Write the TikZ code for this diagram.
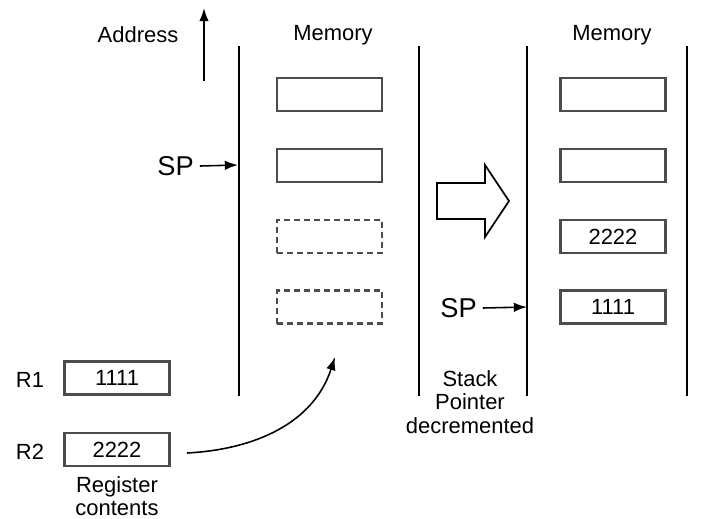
\documentclass[tikz,border=0pt]{standalone}
\usepackage{fontspec}
\setmainfont{Liberation Sans}
\usetikzlibrary{arrows.meta}

\begin{document}
\begin{tikzpicture}[x=0.02cm, y=-0.02cm,
    every node/.style={font=\fontsize{12.5}{13.4}\selectfont},
    cell/.style={draw=black!70, line width=1.2pt, minimum width=2.1cm, minimum height=0.66cm, inner sep=0pt},
    gap/.style={cell, dash pattern=on 3.4pt off 2.3pt},
    wall/.style={line width=1.1pt},
    arr/.style={-{Latex[length=7.5pt, width=5.4pt]}, line width=0.9pt},
    splabel/.style={font=\fontsize{15.5}{18}\selectfont}]
    \useasboundingbox (0,0) rectangle (707,518);
    % Nodes
    \node (addr) at (138,35) {Address};
    \node (mem1) at (333,35) {Memory};
    \node (mem2) at (612,35) {Memory};
    \node[cell] (a1) at (329.5,94.5) {};
    \node[cell] (a2) at (329.5,165.5) {};
    \node[gap] (a3) at (329.5,236.5) {};
    \node[gap] (a4) at (329.5,307) {};
    \node[cell] (b1) at (613,94.5) {};
    \node[cell] (b2) at (613,165.5) {};
    \node[cell] (b3) at (613,236.5) {2222};
    \node[cell] (b4) at (613,307) {1111};
    \node (r1lbl) at (30,380) {R1};
    \node[cell] (r1) at (117,378) {1111};
    \node (r2lbl) at (30,452) {R2};
    \node[cell] (r2) at (117,449.5) {2222};
    \node[align=center, inner sep=1pt] (regtxt) at (117,496) {Register\\contents};
    \node[align=center] (sptxt) at (470,402) {Stack\\Pointer\\decremented};
    \node[splabel] (sp1) at (175.5,166) {SP};
    \node[splabel] (sp2) at (458.5,308) {SP};
    % Coordinates
    \coordinate (addrlo) at (204,81);
    \coordinate (addrhi) at (204,8);
    \coordinate (sp1tip) at (238,165);
    \coordinate (sp2tip) at (527,307);
    \coordinate (cstart) at (187,453);
    \coordinate (ctip) at (335,357);
    % Walls
    \draw[wall] (239,46) -- (239,396);
    \draw[wall] (419,46) -- (419,396);
    \draw[wall] (527,46) -- (527,396);
    \draw[wall] (687,46) -- (687,396);
    % Edges
    \draw[arr] (addrlo) -- (addrhi);
    \draw[arr] (sp1.east) -- (sp1tip);
    \draw[arr] (sp2.east) -- (sp2tip);
    \draw[arr] (cstart) to[out=3, in=-108] (ctip);
    % Hollow arrow
    \draw[line width=1pt, line join=miter] (437,183) -- (485,183) -- (485,165) -- (509,201)
        -- (485,237) -- (485,219) -- (437,219) -- cycle;
\end{tikzpicture}
\end{document}
